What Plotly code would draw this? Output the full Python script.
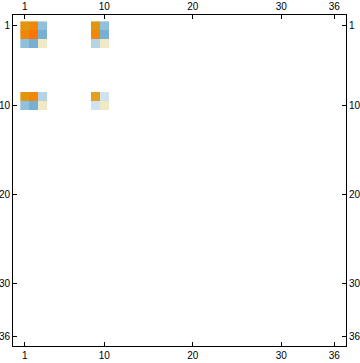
import plotly.graph_objects as go

N = 36
rows = [1, 1, 1, 1, 1,
        2, 2, 2, 2, 2,
        3, 3, 3, 3, 3,
        9, 9, 9, 9, 9,
        10, 10, 10, 10, 10]
cols = [1, 2, 3, 9, 10] * 5
vals = [6, 7, -3, 6, -3,
        7, 9, -4, 7, -4,
        -3, -4, 1, -2, 1,
        6, 7, -2, 5, -1,
        -3, -4, 1, -1, 1]

scale_vals = [-4, -3, -2, -1, 0, 1, 5, 6, 7, 9]
scale_cols = ["#78B0D4", "#8FC0DC", "#B4D4E6", "#CDE3EF", "#FFFFFF",
              "#F1E8C6", "#E3A020", "#E0960F", "#EE870A", "#FF7300"]

tick_vals = [1, 10, 20, 30, 36]

z = [[None] * N for _ in range(N)]
for r, c, v in zip(rows, cols, vals):
    z[r - 1][c - 1] = v

zmin, zmax = min(scale_vals), max(scale_vals)
colorscale = [[(v - zmin) / (zmax - zmin), col] for v, col in zip(scale_vals, scale_cols)]

fig = go.Figure()
fig.add_trace(go.Heatmap(
    x=list(range(1, N + 1)), y=list(range(1, N + 1)), z=z,
    colorscale=colorscale, zmin=zmin, zmax=zmax, showscale=False,
    hoverongaps=False,
))
fig.add_trace(go.Scatter(x=[1], y=[1], xaxis="x2", yaxis="y2",
                         mode="markers", marker=dict(opacity=0),
                         showlegend=False, hoverinfo="skip"))

font = dict(family="Liberation Sans", size=10, color="black")
xr = [-0.33, 37.33]
yr = [37.1, -0.22]
common = dict(tickvals=tick_vals, ticktext=[str(t) for t in tick_vals],
              ticks="inside", ticklen=4, tickwidth=1, tickcolor="black",
              showline=True, linecolor="black", linewidth=1,
              showgrid=False, zeroline=False, tickfont=font, fixedrange=True,
              automargin=False)

fig.update_layout(
    width=360, height=363,
    margin=dict(l=13, r=14, t=15, b=17),
    paper_bgcolor="white", plot_bgcolor="white",
    showlegend=False,
    xaxis=dict(range=xr, side="bottom", **common),
    yaxis=dict(range=yr, side="left", **common),
    xaxis2=dict(range=xr, side="top", overlaying="x", anchor="y", **common),
    yaxis2=dict(range=yr, side="right", overlaying="y", anchor="x", **common),
)

fig.write_html("out.html")
